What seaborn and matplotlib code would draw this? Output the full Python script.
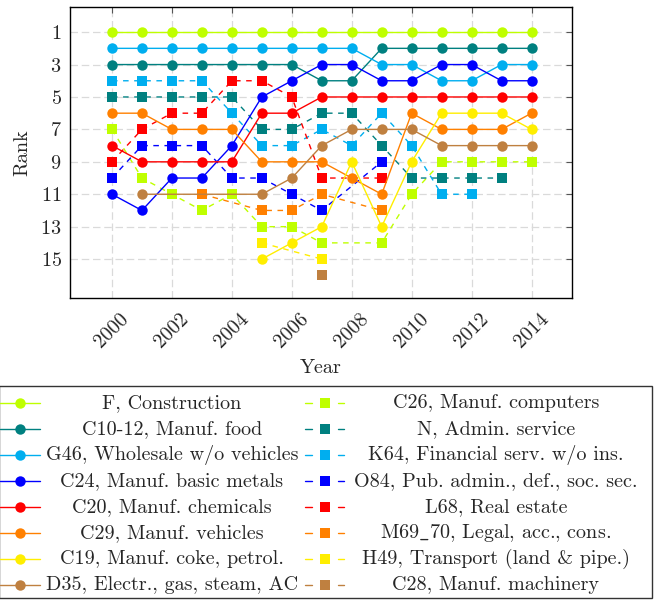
import matplotlib
matplotlib.use("Agg")
import matplotlib.pyplot as plt
from matplotlib.lines import Line2D
from matplotlib.patches import Rectangle
import pandas as pd
import seaborn as sns

N = None
years = [2000, 2001, 2002, 2003, 2004, 2005, 2006, 2007, 2008, 2009, 2010, 2011, 2012, 2013, 2014]

F_construction = [1, 1, 1, 1, 1, 1, 1, 1, 1, 1, 1, 1, 1, 1, 1]
C26_computers  = [7, 10, 11, 12, 11, 13, 13, 14, N, 14, 11, 9, 9, 9, 9]
C10_food       = [3, 3, 3, 3, 3, 3, 3, 4, 4, 2, 2, 2, 2, 2, 2]
N_admin        = [5, 5, 5, 5, 5, 7, 7, 6, 6, 8, 10, 10, 10, 10, N]
G46_wholesale  = [2, 2, 2, 2, 2, 2, 2, 2, 2, 3, 3, 4, 4, 3, 3]
K64_financial  = [4, 4, 4, 4, 6, 8, 8, 7, 8, 6, 8, 11, 11, N, N]
C24_metals     = [11, 12, 10, 10, 8, 5, 4, 3, 3, 4, 4, 3, 3, 4, 4]
O84_pubadmin   = [10, 8, 8, 8, 10, 10, 11, 12, N, 9, N, N, N, N, N]
C20_chemicals  = [8, 9, 9, 9, 9, 6, 6, 5, 5, 5, 5, 5, 5, 5, 5]
L68_realestate = [9, 7, 6, 6, 4, 4, 5, 10, N, 10, N, N, N, N, N]
C29_vehicles   = [6, 6, 7, 7, 7, 9, 9, 9, 10, 11, 6, 7, 7, 7, 6]
M69_legal      = [N, N, N, 11, N, 12, 12, 11, N, 12, N, N, N, N, N]
C19_coke       = [N, N, N, N, N, 15, 14, 13, 9, 13, 9, 6, 6, 6, 7]
H49_transport  = [N, N, N, N, N, 14, N, 15, N, N, N, N, N, N, N]
D35_electr     = [N, 11, N, N, N, 11, 10, 8, 7, 7, 7, 8, 8, 8, 8]
C28_machinery  = [N, N, N, N, N, N, N, 16, N, N, N, N, N, N, N]

labels = [
    "F, Construction", "C26, Manuf. computers",
    "C10-12, Manuf. food", "N, Admin. service",
    "G46, Wholesale w/o vehicles", "K64, Financial serv. w/o ins.",
    "C24, Manuf. basic metals", "O84, Pub. admin., def., soc. sec.",
    "C20, Manuf. chemicals", "L68, Real estate",
    "C29, Manuf. vehicles", "M69_70, Legal, acc., cons.",
    "C19, Manuf. coke, petrol.", "H49, Transport (land & pipe.)",
    "D35, Electr., gas, steam, AC", "C28, Manuf. machinery",
]
values = [F_construction, C26_computers, C10_food, N_admin, G46_wholesale, K64_financial,
          C24_metals, O84_pubadmin, C20_chemicals, L68_realestate, C29_vehicles, M69_legal,
          C19_coke, H49_transport, D35_electr, C28_machinery]
colors = ["#BFFF00", "#BFFF00", "#008080", "#008080", "#00AEEF", "#00AEEF",
          "#0000FF", "#0000FF", "#FF0000", "#FF0000", "#FF8000", "#FF8000",
          "#FFEE00", "#FFEE00", "#BF8040", "#BF8040"]
kinds = ["solid", "dashed"] * 8

sns.set_theme(style="white")
plt.rcParams.update({
    "font.family": "serif",
    "font.serif": ["cmr10", "DejaVu Serif"],
    "mathtext.fontset": "cm",
    "axes.formatter.use_mathtext": True,
    "axes.unicode_minus": False,
})

rows = []
for lab, vals in zip(labels, values):
    for yr, r in zip(years, vals):
        if r is not None:
            rows.append((yr, r, lab))
df = pd.DataFrame(rows, columns=["Year", "Rank", "Sector"])

palette = dict(zip(labels, colors))
markers = {l: ("o" if k == "solid" else "s") for l, k in zip(labels, kinds)}
dashes = {l: ("" if k == "solid" else (4, 4)) for l, k in zip(labels, kinds)}

fig = plt.figure(figsize=(6.6, 6.01), dpi=100)
ax = fig.add_axes([70 / 660, 1 - 298 / 601, 502 / 660, 291 / 601])

sns.lineplot(data=df, x="Year", y="Rank", hue="Sector", style="Sector",
             hue_order=labels, style_order=labels, palette=palette,
             markers=markers, dashes=dashes, estimator=None, sort=True,
             linewidth=1.0, markersize=7.5, markeredgewidth=0,
             legend=False, ax=ax)

ax.set_xlim(1998.6, 2015.35)
ax.set_ylim(17.4, -0.55)
ax.set_xticks(list(range(2000, 2015, 2)))
ax.set_yticks(list(range(1, 16, 2)))
ax.set_axisbelow(True)
ax.grid(True, linestyle=(0, (6, 3)), color="#dadada", linewidth=0.9)
ax.tick_params(direction="in", top=True, right=True, length=4.5, width=0.8,
               color="#555555", labelsize=14.5)
ax.tick_params(axis="x", pad=24)
ax.tick_params(axis="y", pad=6)
for t in ax.get_xticklabels():
    t.set_rotation(45)
    t.set_ha("center")
    t.set_va("center")
for s in ax.spines.values():
    s.set_color("black")
    s.set_linewidth(1.0)

ax.set_xlabel("Year", fontsize=14.5, va="top")
ax.xaxis.set_label_coords(0.5, -0.21)
ax.set_ylabel("Rank", fontsize=14.5)
ax.yaxis.set_label_coords(-0.078, 0.5)

# Legend (two columns, centred text, pgfplots style)
W, H = 660.0, 601.0
def fx(px):
    return px / W
def fy(py):
    return 1 - py / H

def tex_safe(s):
    return s.replace("_", r"$\_$")

fig.add_artist(Rectangle((fx(-1), fy(598)), fx(653), 212 / H, transform=fig.transFigure,
                         fill=False, ec="#333333", lw=1.0, clip_on=False))
row_y = [403, 429, 455, 481, 507, 533, 559, 585]
for i in range(8):
    yy = fy(row_y[i])
    # left column: solid + circle
    lab, col = labels[2 * i], colors[2 * i]
    fig.add_artist(Line2D([fx(0), fx(40)], [yy, yy], transform=fig.transFigure,
                          color=col, lw=1.0))
    fig.add_artist(Line2D([fx(20)], [yy], transform=fig.transFigure, marker="o",
                          markersize=7.5, mew=0, color=col, ls="none"))
    fig.text(fx(172), yy, tex_safe(lab), ha="center", va="center", fontsize=14.5)
    # right column: dashed + square
    lab, col = labels[2 * i + 1], colors[2 * i + 1]
    for a, b in [(305, 312), (338, 344)]:
        fig.add_artist(Line2D([fx(a), fx(b)], [yy, yy], transform=fig.transFigure,
                              color=col, lw=1.0))
    fig.add_artist(Line2D([fx(325)], [yy], transform=fig.transFigure, marker="s",
                          markersize=7.5, mew=0, color=col, ls="none"))
    fig.text(fx(496), yy, tex_safe(lab), ha="center", va="center", fontsize=14.5)

fig.savefig("out.png", dpi=100)
